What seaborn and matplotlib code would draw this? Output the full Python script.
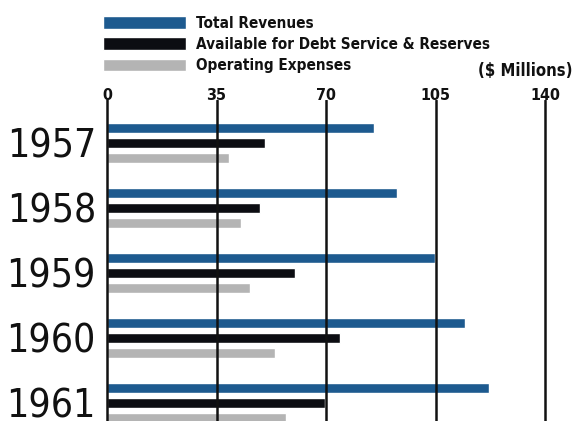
import pandas as pd
import matplotlib.pyplot as plt
import seaborn as sns

# 数据 ($ Millions)
years = ['1957', '1958', '1959', '1960', '1961']
total_revenues = [85.2, 92.6, 104.8, 114.5, 121.9]
available_debt = [50.5, 48.9, 60.1, 74.3, 69.5]
operating_exp = [38.9, 42.8, 45.7, 53.7, 57.2]
series_names = ['Total Revenues', 'Available for Debt Service & Reserves', 'Operating Expenses']
tick_values = [0, 35, 70, 105, 140]

colors = ['#1d5a8f', '#0c0d12', '#b4b4b4']

df = pd.DataFrame({
    'year': years * 3,
    'value': total_revenues + available_debt + operating_exp,
    'series': [s for s in series_names for _ in years],
})

sns.set_style('white')
plt.rcParams['font.family'] = ['DejaVu Sans']
plt.rcParams['font.stretch'] = 'condensed'
plt.rcParams['text.color'] = '#111111'
plt.rcParams['xtick.color'] = '#111111'
plt.rcParams['ytick.color'] = '#111111'

fig = plt.figure(figsize=(5.74, 4.21), dpi=100)
W, H = 574, 421
ax = fig.add_axes([107 / W, 0, (W - 107) / W, (H - 100) / H])

sns.barplot(data=df, x='value', y='year', hue='series', palette=colors,
            orient='h', width=0.69, gap=0.3, saturation=1, ax=ax)

ax.set_xlim(0, 149.2)
ax.set_ylim(4.28, -0.66)
ax.xaxis.tick_top()
ax.set_xticks(tick_values)
ax.set_xticklabels([str(v) for v in tick_values], fontsize=11.5, fontweight='bold',
                   fontstretch='condensed')
ax.tick_params(axis='x', length=0, pad=-2, labelcolor='#111111')
ax.tick_params(axis='y', length=0, pad=8, labelcolor='#111111')
for lab in ax.get_yticklabels():
    lab.set_fontsize(28)
    lab.set_fontstretch('condensed')
ax.set_xlabel('')
ax.set_ylabel('')

for s in ['top', 'right', 'bottom']:
    ax.spines[s].set_visible(False)
ax.spines['left'].set_color('#111111')
ax.spines['left'].set_linewidth(1.8)
ax.spines['left'].set_zorder(5)
for v in tick_values[1:]:
    ax.axvline(v, color='#111111', linewidth=1.8, zorder=5)

handles, labels = ax.get_legend_handles_labels()
ax.legend(handles, labels, loc='upper left', bbox_to_anchor=(103 / W, 1 - 16 / H),
          bbox_transform=fig.transFigure, frameon=False, labelcolor='#111111',
          prop={'weight': 'bold', 'size': 11, 'stretch': 'condensed'},
          handlelength=5.4, handleheight=0.9, labelspacing=0.4, handletextpad=0.7,
          borderpad=0, borderaxespad=0)

fig.text(573 / W, 1 - 71 / H, '($ Millions)', ha='right', va='center',
         fontsize=12, fontweight='bold', fontstretch='condensed')

fig.savefig('out.png', dpi=100)
